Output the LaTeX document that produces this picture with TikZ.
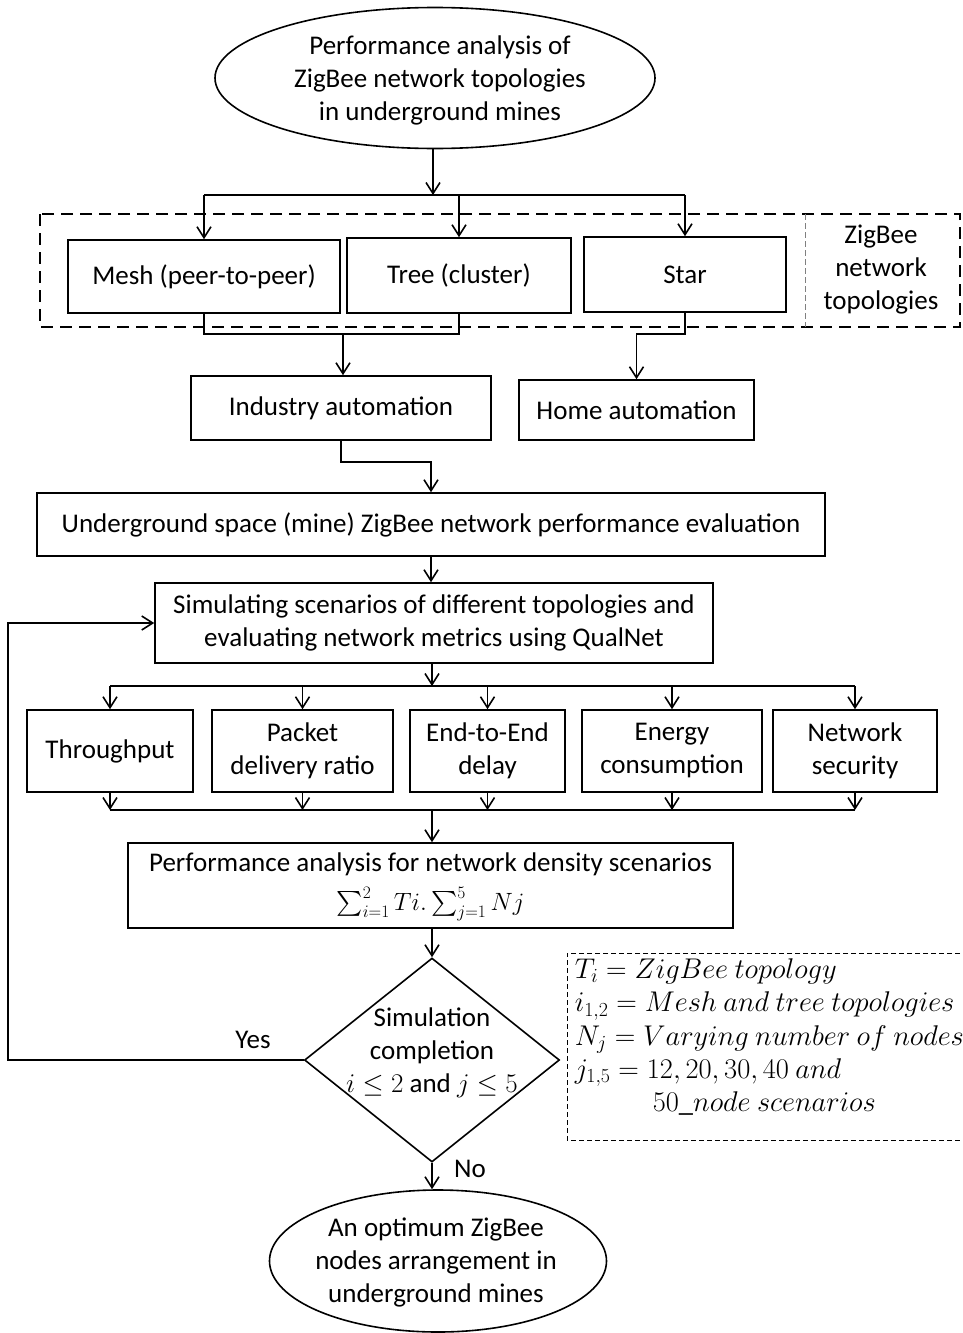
\RequirePackage{fix-cm}
\documentclass[tikz,border=0pt]{standalone}
\usepackage{amsmath}
\usepackage{fontspec}
\setmainfont{Carlito}
\usetikzlibrary{arrows.meta,shapes.geometric}
\begin{document}
\begin{tikzpicture}[x=1pt,y=-1pt,
  line width=1.6pt,
  every node/.style={font=\fontsize{27}{33}\selectfont},
  box/.style={draw, rectangle, inner sep=0pt, align=center},
  oval/.style={draw, ellipse, inner sep=0pt},
  arr/.style={-{Straight Barb[length=11pt,width=14pt,line width=1.6pt]}},
  txt/.style={inner sep=0pt, align=center}]
\useasboundingbox (0,0) rectangle (963,1333);
\fill[white] (0,0) rectangle (963,1333);

% top ellipse
\node[oval, minimum width=440pt, minimum height=141pt] (top) at (435,78) {};
\node[txt] (topt) at (440,80)
  {Performance analysis of\\ZigBee network topologies\\in underground mines};

% topologies frame
\draw[line width=2.6pt, dash pattern=on 12pt off 7pt] (40,214) rectangle (960,327);
\draw[line width=0.9pt, gray, dash pattern=on 6pt off 3pt] (805,214) -- (805,327);
\node[txt] (ztopo) at (881,270) {ZigBee\\network\\topologies};

\node[box, minimum width=272pt, minimum height=73pt] (mesh) at (204,276.5) {Mesh (peer-to-peer)};
\node[box, minimum width=224pt, minimum height=75pt] (tree) at (459,275.5) {Tree (cluster)};
\node[box, minimum width=202pt, minimum height=75pt] (star) at (685,274.5) {Star};

\coordinate (j1) at (433,195);
\draw[arr] (j1 |- top.south) -- (j1);
\draw (mesh.north |- j1) -- (star.north |- j1);
\draw[arr] (mesh.north |- j1) -- (mesh.north);
\draw[arr] (tree.north |- j1) -- (tree.north);
\draw[arr] (star.north |- j1) -- (star.north);

% applications
\node[box, minimum width=300pt, minimum height=64pt] (ind) at (341,408) {Industry automation};
\node[box, minimum width=235pt, minimum height=60pt] (home) at (636.5,410) {Home automation};

\coordinate (j2) at (343,334);
\draw (mesh.south) -- (mesh.south |- j2) -- (tree.south |- j2) -- (tree.south);
\draw[arr] (j2) -- (j2 |- ind.north);
\coordinate (j3) at (685,334);
\draw[arr] (star.south) -- (j3) -| (home.north);

% underground
\node[box, minimum width=788pt, minimum height=63pt] (und) at (431,524.5)
  {Underground space (mine) ZigBee network performance evaluation};
\coordinate (j4) at (343,462);
\draw[arr] (ind.south) -- (ind.south |- j4) -- (j4 -| und.north) -- (und.north);

% simulating
\node[box, minimum width=558pt, minimum height=80pt] (sim) at (434,623)
  {Simulating scenarios of different topologies and\\evaluating network metrics using QualNet};
\draw[arr] (und.south) -- (und.south |- sim.north);

% metrics
\node[box, minimum width=166pt, minimum height=82pt] (thr) at (110,751) {Throughput};
\node[box, minimum width=181pt, minimum height=82pt] (pdr) at (302.5,751) {Packet\\delivery ratio};
\node[box, minimum width=155pt, minimum height=82pt] (e2e) at (487.5,751) {End-to-End\\delay};
\node[box, minimum width=180pt, minimum height=82pt] (ene) at (672,751) {Energy\\consumption};
\node[box, minimum width=164pt, minimum height=82pt] (sec) at (855,751) {Network\\security};

\coordinate (j5) at (432,686);
\draw[arr] (sim.south -| j5) -- (j5);
\draw (thr.north |- j5) -- (sec.north |- j5);
\foreach \n in {thr,pdr,e2e,ene,sec}
  \draw[arr] (\n.north |- j5) -- (\n.north);

\coordinate (j6) at (432,810);
\foreach \n in {thr,pdr,e2e,ene,sec}
  \draw[arr] (\n.south) -- (\n.south |- j6);
\draw (thr.south |- j6) -- (sec.south |- j6);

% performance
\node[box, minimum width=605pt, minimum height=85pt] (perf) at (430.5,885.5) {};
\node[txt] (perft) at (430.5,864) {Performance analysis for network density scenarios};
\node[txt, font=\fontsize{25}{30}\selectfont] (perfm) at (430.5,904) {$\sum_{i=1}^{2} Ti.\sum_{j=1}^{5} Nj$};
\draw[arr] (j6) -- (j6 |- perf.north);

% decision
\node[draw, diamond, inner sep=0pt, minimum width=255pt, minimum height=204pt] (dec) at (432,1060) {};
\node[txt] (dect) at (432,1053) {Simulation\\completion\\$i \le 2$ and $j \le 5$};
\draw[arr] (perf.south -| dec.north) -- (dec.north);

% end
\node[oval, minimum width=337pt, minimum height=142pt] (end) at (438,1261) {};
\node[txt] (endt) at (436,1262) {An optimum ZigBee\\nodes arrangement in\\underground mines};
\draw[arr] (dec.south) -- (dec.south |- end.north);
\node[txt] (no) at (470,1169) {No};

% loop back
\coordinate (lb) at (8,1055);
\draw[arr] (dec.west) -- (dec.west -| lb) -- (lb |- sim.west) -- (sim.west);
\node[txt] (yes) at (253,1040) {Yes};

% legend
\draw[line width=0.9pt, dash pattern=on 5pt off 3pt] (968,953) -- (567,953) -- (567,1140) -- (968,1140);
\node[txt, anchor=north west, align=left, font=\fontsize{28.5}{33.2}\selectfont] (leg) at (574,958)
  {$T_i = ZigBee\ topology$\\
   $i_{1,2} = Mesh\ and\ tree\ topologies$\\
   $N_j = Varying\ number\ of\ nodes$\\
   $j_{1,5} = 12, 20, 30, 40\ and$\\
   \hspace{78pt}$50\_node\ scenarios$};
\end{tikzpicture}
\end{document}
